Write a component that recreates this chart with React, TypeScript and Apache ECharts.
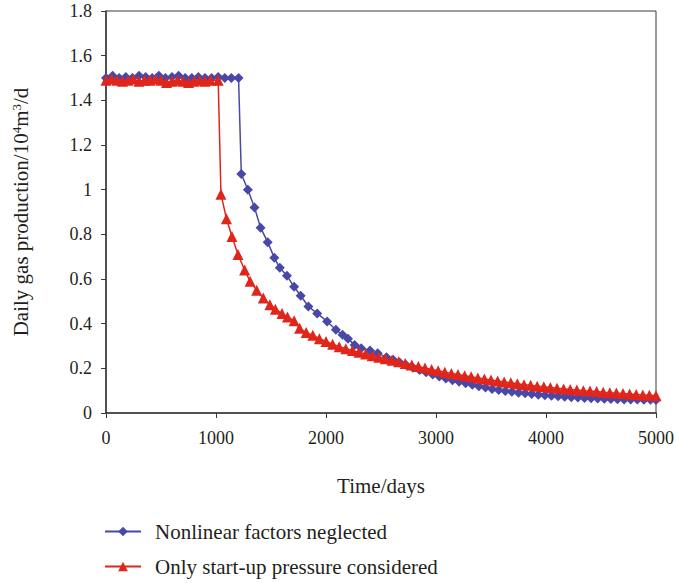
import React, { useEffect, useRef } from "react";
import * as echarts from "echarts";

const blueName = "Nonlinear factors neglected";
const redName = "Only start-up pressure considered";

const blueDays = [
  0, 60, 120, 180, 240, 300, 360, 420, 480, 540, 600, 660, 720, 780, 840, 900, 960, 1020, 1080, 1140, 1205,
  1230, 1290, 1350, 1405, 1470, 1530, 1580, 1645, 1710, 1770, 1840, 1920, 2010, 2090, 2150, 2200, 2260, 2320,
  2400, 2470, 2550, 2610, 2670, 2730, 2790, 2850, 2910, 2970, 3030, 3090, 3150, 3210, 3270, 3330, 3390, 3450,
  3510, 3570, 3630, 3690, 3750, 3810, 3870, 3930, 3990, 4050, 4110, 4170, 4230, 4290, 4350, 4410, 4470, 4530,
  4590, 4650, 4710, 4770, 4830, 4890, 4950, 5000,
];
const blueValues = [
  1.5, 1.51, 1.5, 1.505, 1.5, 1.51, 1.505, 1.5, 1.51, 1.5, 1.505, 1.51, 1.5, 1.5, 1.505, 1.5, 1.5, 1.505, 1.5, 1.5, 1.5,
  1.07, 1.0, 0.92, 0.83, 0.765, 0.695, 0.65, 0.615, 0.565, 0.525, 0.477, 0.446, 0.41, 0.373, 0.35, 0.333, 0.305, 0.29,
  0.28, 0.267, 0.25, 0.238, 0.226, 0.214, 0.203, 0.192, 0.182, 0.172, 0.163, 0.155, 0.147, 0.14, 0.133, 0.126, 0.12, 0.114,
  0.108, 0.103, 0.099, 0.095, 0.091, 0.088, 0.085, 0.082, 0.079, 0.077, 0.075, 0.073, 0.071, 0.069, 0.067, 0.066, 0.065, 0.064,
  0.063, 0.062, 0.061, 0.06, 0.06, 0.059, 0.059, 0.058,
];

const redDays = [
  0, 50, 100, 150, 200, 250, 300, 350, 400, 450, 500, 550, 600, 650, 700, 750, 800, 850, 900, 950, 1020,
  1045, 1095, 1145, 1200, 1260, 1310, 1370, 1430, 1490, 1540, 1600, 1650, 1710, 1760, 1820, 1880, 1940, 2000,
  2060, 2120, 2180, 2240, 2300, 2360, 2420, 2480, 2540, 2600, 2660, 2720, 2780, 2840, 2900, 2960, 3020, 3080,
  3140, 3200, 3260, 3320, 3380, 3440, 3500, 3560, 3620, 3680, 3740, 3800, 3860, 3920, 3980, 4040, 4100, 4160,
  4220, 4280, 4340, 4400, 4460, 4520, 4580, 4640, 4700, 4760, 4820, 4880, 4940, 5000,
];
const redValues = [
  1.49, 1.495, 1.49, 1.485, 1.49, 1.495, 1.485, 1.49, 1.49, 1.495, 1.49, 1.48, 1.485, 1.49, 1.485, 1.48, 1.485, 1.49, 1.485, 1.49, 1.49,
  0.98, 0.87, 0.79, 0.71, 0.64, 0.59, 0.55, 0.515, 0.485, 0.465, 0.445, 0.43, 0.413, 0.38, 0.36, 0.348, 0.333, 0.32,
  0.308, 0.297, 0.288, 0.28, 0.272, 0.264, 0.256, 0.25, 0.243, 0.236, 0.229, 0.222, 0.215, 0.208, 0.201, 0.195, 0.189, 0.183,
  0.177, 0.172, 0.167, 0.162, 0.157, 0.152, 0.148, 0.143, 0.139, 0.135, 0.131, 0.127, 0.124, 0.12, 0.117, 0.114, 0.111, 0.108,
  0.105, 0.103, 0.1, 0.098, 0.096, 0.093, 0.091, 0.089, 0.087, 0.085, 0.083, 0.081, 0.079, 0.077,
];

const xTicks = { min: 0, max: 5000, interval: 1000 };
const yTicks = { min: 0, max: 1.8, interval: 0.2 };

const FONT = "Liberation Serif";
const TEXT = "#231f20";
const AXIS = "#3a3a3a";
const BLUE = "#4848a8";
const RED = "#e0251b";

export default function App() {
  const ref = useRef<HTMLDivElement>(null);
  useEffect(() => {
    if (!ref.current) return;
    const chart = echarts.init(ref.current, null, { renderer: "svg" });
    const blueData = blueDays.map((d, i) => [d, blueValues[i]]);
    const redData = redDays.map((d, i) => [d, redValues[i]]);
    chart.setOption({
      animation: false,
      backgroundColor: "#fff",
      textStyle: { fontFamily: FONT },
      grid: {
        left: 106,
        right: 19,
        top: 11,
        bottom: 170,
        show: true,
        borderColor: AXIS,
        borderWidth: 1,
      },
      legend: {
        orient: "vertical",
        left: 104,
        top: 521,
        height: 62,
        padding: 0,
        itemWidth: 36,
        itemHeight: 12,
        itemGap: 14,
        textStyle: { fontFamily: FONT, fontSize: 21, color: TEXT, padding: [0, 0, 0, 9] },
        data: [blueName, redName],
      },
      xAxis: {
        type: "value",
        min: xTicks.min,
        max: xTicks.max,
        interval: xTicks.interval,
        name: "Time/days",
        nameLocation: "middle",
        nameGap: 62,
        nameTextStyle: { fontFamily: FONT, fontSize: 21, color: TEXT },
        axisLine: { lineStyle: { color: AXIS, width: 1.5 } },
        axisTick: { show: true, inside: false, length: 5, lineStyle: { color: AXIS } },
        axisLabel: { fontFamily: FONT, fontSize: 18, color: TEXT, margin: 16, formatter: (v: number) => String(v) },
        splitLine: { show: false },
      },
      yAxis: {
        type: "value",
        min: yTicks.min,
        max: yTicks.max,
        interval: yTicks.interval,
        name: "{t|Daily gas production/10}{s|4}{t|m}{s|3}{t|/d}",
        nameLocation: "middle",
        nameGap: 74,
        nameRotate: 90,
        nameTextStyle: {
          fontFamily: FONT,
          fontSize: 21,
          color: TEXT,
          rich: {
            t: { fontFamily: FONT, fontSize: 21, color: TEXT },
            s: { fontFamily: FONT, fontSize: 13, color: TEXT, verticalAlign: "top", padding: [0, 0, 9, 0] },
          },
        },
        axisLine: { show: true, lineStyle: { color: AXIS, width: 1.5 } },
        axisTick: { show: true, inside: false, length: 5, lineStyle: { color: AXIS } },
        axisLabel: { fontFamily: FONT, fontSize: 18, color: TEXT, margin: 14, formatter: (v: number) => String(v) },
        splitLine: { show: false },
      },
      series: [
        {
          name: blueName,
          type: "line",
          data: blueData,
          symbol: "diamond",
          symbolSize: 10,
          showAllSymbol: true,
          lineStyle: { color: BLUE, width: 1.5 },
          itemStyle: { color: BLUE },
          z: 2,
        },
        {
          name: redName,
          type: "line",
          data: redData,
          symbol: "triangle",
          symbolSize: 11,
          showAllSymbol: true,
          lineStyle: { color: RED, width: 1.5 },
          itemStyle: { color: RED },
          z: 3,
        },
      ],
    });
    return () => chart.dispose();
  }, []);
  return (
    <div
      ref={ref}
      style={{ position: "fixed", left: 0, top: 0, width: 677, height: 583 }}
    />
  );
}
